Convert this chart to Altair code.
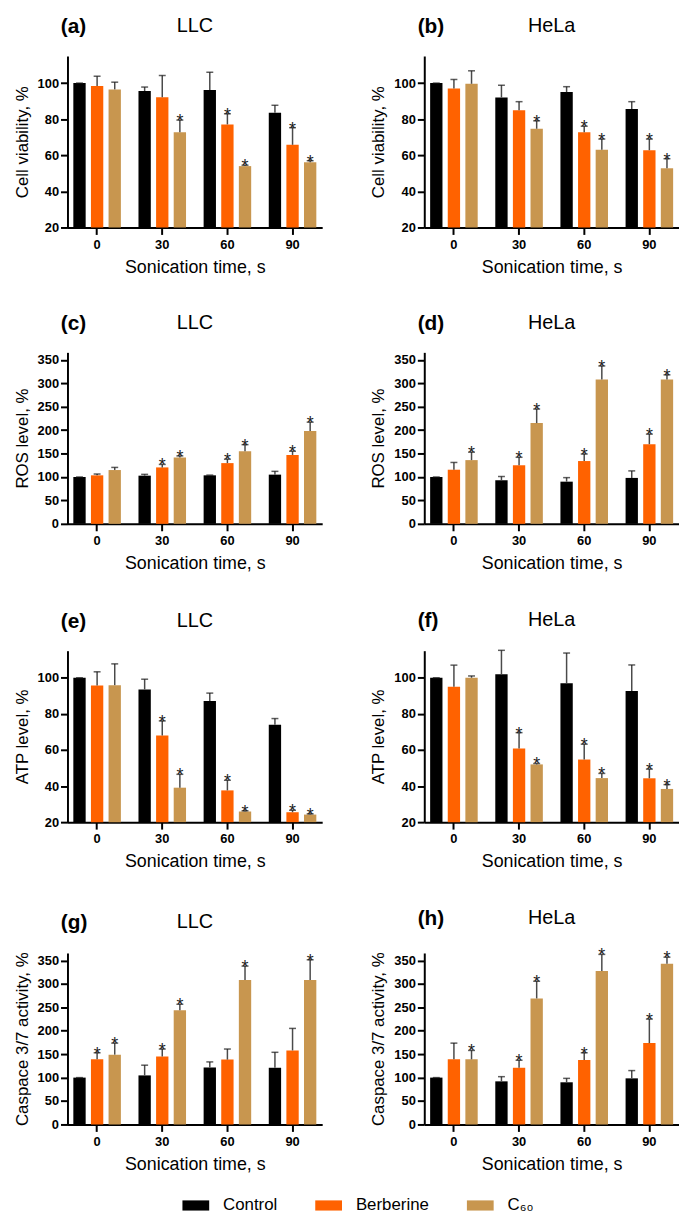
import altair as alt
import pandas as pd

times = ["0", "30", "60", "90"]
groups = ["Control", "Berberine", "C₆₀"]
colors = ["#000000", "#FF6200", "#C8964F"]

# (a) LLC cell viability
via_llc_mean = [[100, 95.6, 96.2, 83.5], [98.4, 92.1, 77.1, 65.8], [96.5, 72.7, 54.0, 56.2]]
via_llc_err = [[0, 2.2, 9.8, 4.2], [5.4, 12.1, 5.9, 9.5], [4.0, 6.8, 0.5, 0.8]]
via_llc_star = [[0, 0, 0, 0], [0, 0, 1, 1], [0, 1, 1, 1]]
# (b) HeLa cell viability
via_hela_mean = [[100, 92.0, 95.0, 85.6], [97.0, 85.0, 72.7, 62.8], [99.6, 74.7, 63.1, 52.8]]
via_hela_err = [[0, 6.8, 3.0, 4.1], [5.0, 4.7, 3.4, 6.2], [7.2, 4.4, 5.9, 5.3]]
via_hela_star = [[0, 0, 0, 0], [0, 0, 1, 1], [0, 1, 1, 1]]
# (c) LLC ROS
ros_llc_mean = [[100, 102.8, 103.5, 105], [103.5, 120.4, 129.6, 147], [114.8, 141.5, 155, 198]]
ros_llc_err = [[0, 2.8, 0.5, 7], [2.8, 6.4, 8.4, 8], [5.6, 3.5, 14, 19]]
ros_llc_star = [[0, 0, 0, 0], [0, 1, 1, 1], [0, 1, 1, 1]]
# (d) HeLa ROS
ros_hela_mean = [[100, 93, 90, 98], [115.5, 125, 134, 170], [136, 215, 308, 308]]
ros_hela_err = [[0, 8, 8.6, 15], [15.5, 17, 15, 21.5], [17, 30, 29, 10]]
ros_hela_star = [[0, 0, 0, 0], [0, 1, 1, 1], [1, 1, 1, 1]]
# (e) LLC ATP
atp_llc_mean = [[100, 93.5, 87.1, 74], [95.7, 68, 37.6, 25.5], [95.9, 39.1, 25.9, 24.2]]
atp_llc_err = [[0, 5.7, 4.4, 3.4], [7.6, 8.1, 5.6, 1.1], [11.8, 7.4, 0.4, 0.4]]
atp_llc_star = [[0, 0, 0, 0], [0, 1, 1, 1], [0, 1, 1, 1]]
# (f) HeLa ATP
atp_hela_mean = [[100, 102, 97, 92.6], [95, 60.8, 54.7, 44.3], [100, 52, 44.4, 38.4]]
atp_hela_err = [[0, 13.2, 16.7, 14.5], [12, 8.8, 8.5, 5.1], [1, 0.5, 2.6, 2.4]]
atp_hela_star = [[0, 0, 0, 0], [0, 1, 1, 1], [0, 1, 1, 1]]
# (g) LLC caspase 3/7
casp_llc_mean = [[100, 104.7, 121.6, 121], [139, 144.8, 138.4, 158], [149, 243.8, 308.5, 308.5]]
casp_llc_err = [[0, 21.8, 11.9, 33], [14, 16.2, 22.6, 47], [24.6, 12.7, 29.5, 43]]
casp_llc_star = [[0, 0, 0, 0], [1, 1, 0, 0], [1, 1, 1, 1]]
# (h) HeLa caspase 3/7
casp_hela_mean = [[100, 92, 90, 98.4], [139, 121, 137.7, 173.6], [139, 269, 327.5, 343]]
casp_hela_err = [[0, 10, 8.4, 16.6], [34.6, 16, 15.3, 51.4], [19, 36.7, 35.5, 14]]
casp_hela_star = [[0, 0, 0, 0], [0, 1, 1, 1], [1, 1, 1, 1]]

pct_domain = [20, 115]
pct_ticks = [20, 40, 60, 80, 100]
big_domain = [0, 366]
big_ticks = [0, 50, 100, 150, 200, 250, 300, 350]

FONT = "Liberation Sans"
W, H = 257, 173


def panel(mean, err, star, ytitle, ydom, yvals, letter, cell, show_legend):
    rows = []
    for gi, g in enumerate(groups):
        for ti, t in enumerate(times):
            rows.append({"time": t, "group": g, "mean": mean[gi][ti],
                         "top": mean[gi][ti] + err[gi][ti], "star": star[gi][ti]})
    df = pd.DataFrame(rows)
    xenc = alt.X("time:N", sort=times, title="Sonication time, s",
                 scale=alt.Scale(paddingInner=0.27, paddingOuter=0.09),
                 axis=alt.Axis(labelAngle=0))
    xoff = alt.XOffset("group:N", sort=groups,
                       scale=alt.Scale(paddingInner=0.3, paddingOuter=0))
    yscale = alt.Scale(domain=ydom, zero=False, nice=False)
    yaxis = alt.Axis(values=yvals, labelOverlap=False)

    def yenc(field):
        return alt.Y(field, scale=yscale, title=ytitle, axis=yaxis)

    base = alt.Chart(df).encode(x=xenc, xOffset=xoff)
    if show_legend:
        legend = alt.Legend(
            title=None, orient="none", direction="horizontal", columns=3,
            legendX=116, legendY=1146, symbolType="M-1,-0.38H1V0.38H-1Z",
            symbolSize=729, symbolStrokeWidth=0, symbolOpacity=1,
            labelFont=FONT, labelFontSize=17, labelColor="#000",
            labelOffset=14, columnPadding=38,
        )
        cenc = alt.Color("group:N", sort=groups,
                         scale=alt.Scale(domain=groups, range=colors), legend=legend)
    else:
        cenc = alt.Color("group:N", sort=groups,
                         scale=alt.Scale(domain=groups, range=colors))
    bars = base.mark_bar().encode(
        y=yenc("mean:Q"),
        y2=alt.datum(ydom[0]),
        color=cenc,
    )
    errs = base.mark_rule(color="#4a4a4a", strokeWidth=1.5).encode(
        y=yenc("mean:Q"), y2="top:Q")
    caps = base.mark_tick(color="#1a1a1a", size=7, thickness=1.5).encode(
        y=yenc("top:Q"))
    stars = base.transform_filter("datum.star == 1").mark_text(
        text="*", fontSize=18, font=FONT, color="#1a1a1a", baseline="alphabetic", dy=7
    ).encode(y=yenc("top:Q"))
    inner = alt.layer(bars, errs, caps, stars).properties(
        width=W, height=H,
        title=alt.Title(cell, anchor="middle", frame="group", fontSize=20,
                        fontWeight="normal", font=FONT, color="#000", offset=20),
    )
    return alt.hconcat(inner).properties(
        title=alt.Title(letter, anchor="start", fontSize=21, fontWeight="bold",
                        font=FONT, color="#000", dx=48, dy=25)
    )


specs = [
    (via_llc_mean, via_llc_err, via_llc_star, "Cell viability, %", pct_domain, pct_ticks, "(a)", "LLC"),
    (via_hela_mean, via_hela_err, via_hela_star, "Cell viability, %", pct_domain, pct_ticks, "(b)", "HeLa"),
    (ros_llc_mean, ros_llc_err, ros_llc_star, "ROS level, %", big_domain, big_ticks, "(c)", "LLC"),
    (ros_hela_mean, ros_hela_err, ros_hela_star, "ROS level, %", big_domain, big_ticks, "(d)", "HeLa"),
    (atp_llc_mean, atp_llc_err, atp_llc_star, "ATP level, %", pct_domain, pct_ticks, "(e)", "LLC"),
    (atp_hela_mean, atp_hela_err, atp_hela_star, "ATP level, %", pct_domain, pct_ticks, "(f)", "HeLa"),
    (casp_llc_mean, casp_llc_err, casp_llc_star, "Caspace 3/7 activity, %", big_domain, big_ticks, "(g)", "LLC"),
    (casp_hela_mean, casp_hela_err, casp_hela_star, "Caspace 3/7 activity, %", big_domain, big_ticks, "(h)", "HeLa"),
]

panels = [panel(*s, show_legend=(i == 6)) for i, s in enumerate(specs)]
rows = [alt.hconcat(panels[2 * r], panels[2 * r + 1], spacing=48) for r in range(4)]

chart = alt.vconcat(*rows, spacing=37).configure_view(stroke=None).configure_axis(
    domainColor="#000", domainWidth=2, tickColor="#000", tickWidth=2, tickSize=7,
    labelFont=FONT, labelFontSize=13, labelFontWeight="bold", labelColor="#000",
    titleFont=FONT, titleFontWeight="normal", titleColor="#000", grid=False,
).configure_axisY(
    labelPadding=2, titleFontSize=17, titlePadding=6,
).configure_axisX(
    labelPadding=4, titleFontSize=18, titlePadding=7,
).properties(padding={"left": 5, "top": 3, "right": 0, "bottom": 5})

chart.save("out.html", embed_options={"renderer": "svg", "actions": False})
